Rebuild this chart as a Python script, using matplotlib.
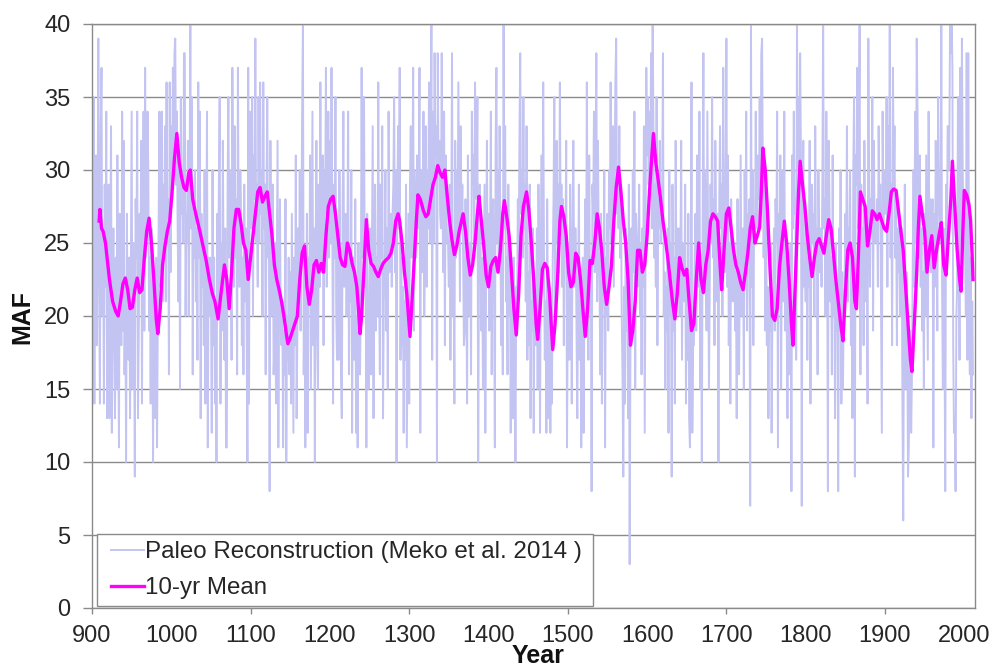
import numpy as np
import matplotlib
matplotlib.use("Agg")
import matplotlib.pyplot as plt
from matplotlib.legend_handler import HandlerLine2D

# Annual reconstructed flow (MAF), one list per century, ten years per row
flow_0900 = [
    30, 22, 35, 14, 28, 31, 18, 26, 39, 22,
    14, 33, 37, 20, 26, 14, 29, 22, 34, 13,
    19, 29, 13, 24, 33, 12, 22, 26, 18, 13,
    24, 15, 31, 20, 11, 27, 23, 18, 34, 19,
    32, 16, 22, 10, 27, 19, 17, 24, 13, 23,
    34, 15, 25, 20, 9, 28, 24, 34, 13, 19,
    27, 22, 32, 14, 26, 34, 19, 37, 24, 27,
    34, 30, 19, 24, 14, 26, 21, 10, 23, 15,
    13, 24, 11, 20, 26, 34, 22, 30, 34, 21,
    29, 24, 33, 21, 36, 25, 28, 16, 36, 23]
flow_1000 = [
    33, 28, 37, 30, 38, 39, 29, 34, 26, 21,
    31, 15, 35, 27, 30, 25, 38, 38, 20, 27,
    25, 32, 20, 28, 40, 26, 35, 16, 27, 24,
    30, 21, 26, 17, 36, 24, 34, 13, 27, 22,
    25, 18, 30, 14, 23, 34, 11, 24, 20, 24,
    22, 12, 30, 18, 24, 14, 21, 10, 27, 20,
    29, 35, 14, 25, 19, 32, 22, 17, 26, 11,
    11, 29, 35, 24, 30, 27, 17, 37, 28, 22,
    33, 24, 28, 16, 37, 25, 22, 30, 27, 18,
    24, 16, 29, 21, 26, 19, 10, 37, 14, 34]
flow_1100 = [
    30, 26, 35, 20, 31, 28, 39, 25, 29, 22,
    35, 25, 36, 27, 30, 20, 36, 26, 29, 16,
    28, 35, 24, 27, 8, 32, 20, 26, 29, 16,
    18, 25, 14, 23, 32, 11, 22, 28, 19, 18,
    21, 11, 19, 16, 28, 10, 20, 17, 24, 16,
    23, 14, 27, 19, 12, 24, 18, 31, 13, 19,
    26, 21, 30, 19, 25, 34, 40, 16, 23, 11,
    18, 27, 12, 24, 21, 31, 15, 25, 34, 18,
    26, 10, 24, 32, 19, 15, 29, 22, 36, 23,
    25, 31, 18, 30, 27, 37, 22, 29, 34, 24]
flow_1200 = [
    32, 25, 37, 27, 14, 29, 24, 35, 20, 17,
    26, 17, 30, 24, 16, 13, 27, 34, 22, 25,
    27, 20, 25, 34, 16, 24, 21, 30, 12, 24,
    22, 17, 28, 12, 20, 11, 25, 18, 16, 21,
    37, 24, 30, 35, 22, 26, 11, 27, 18, 15,
    21, 26, 16, 25, 33, 13, 24, 29, 19, 24,
    20, 36, 22, 16, 29, 24, 33, 13, 21, 23,
    30, 19, 26, 15, 34, 23, 25, 27, 22, 27,
    29, 35, 23, 30, 10, 28, 33, 26, 37, 17,
    24, 18, 22, 12, 21, 17, 29, 11, 19, 27]
flow_1300 = [
    14, 29, 33, 24, 28, 37, 19, 30, 27, 24,
    31, 26, 29, 37, 12, 30, 23, 28, 34, 20,
    27, 33, 22, 30, 26, 36, 25, 29, 40, 17,
    34, 25, 38, 31, 33, 10, 38, 30, 32, 27,
    26, 38, 28, 23, 34, 18, 31, 27, 25, 25,
    22, 29, 17, 25, 38, 20, 24, 14, 32, 24,
    30, 25, 36, 28, 21, 33, 26, 29, 24, 18,
    19, 28, 22, 14, 31, 24, 20, 25, 16, 34,
    29, 31, 24, 36, 30, 28, 35, 10, 23, 29,
    25, 19, 24, 15, 22, 29, 12, 23, 32, 22]
flow_1400 = [
    27, 19, 26, 34, 16, 25, 28, 22, 11, 32,
    37, 25, 30, 23, 33, 26, 18, 27, 16, 40,
    26, 33, 21, 24, 16, 29, 20, 25, 12, 24,
    20, 13, 24, 18, 10, 22, 19, 28, 24, 32,
    38, 27, 30, 24, 35, 26, 29, 21, 33, 17,
    23, 18, 29, 13, 21, 19, 26, 12, 22, 22,
    18, 26, 15, 29, 24, 12, 25, 31, 23, 36,
    24, 17, 21, 12, 28, 19, 13, 22, 12, 20,
    14, 24, 28, 35, 20, 27, 32, 25, 29, 23,
    36, 26, 29, 22, 28, 18, 27, 25, 32, 11]
flow_1500 = [
    21, 25, 17, 29, 23, 14, 26, 32, 22, 26,
    26, 19, 13, 22, 29, 17, 21, 11, 23, 24,
    12, 22, 28, 20, 36, 24, 17, 31, 21, 24,
    8, 29, 27, 34, 23, 28, 38, 21, 32, 25,
    22, 16, 27, 14, 23, 21, 30, 11, 24, 20,
    27, 19, 30, 26, 36, 25, 28, 33, 22, 29,
    36, 39, 27, 30, 26, 33, 24, 29, 20, 16,
    9, 22, 14, 26, 19, 22, 13, 29, 3, 18,
    26, 19, 30, 23, 34, 15, 27, 25, 22, 24,
    29, 20, 25, 16, 26, 22, 33, 12, 24, 37]
flow_1600 = [
    31, 35, 29, 34, 30, 38, 26, 40, 33, 24,
    29, 22, 35, 18, 28, 26, 32, 25, 27, 28,
    38, 20, 23, 15, 22, 19, 26, 12, 30, 20,
    25, 9, 29, 19, 24, 14, 32, 22, 26, 25,
    26, 20, 24, 32, 17, 25, 22, 21, 29, 14,
    23, 17, 27, 13, 11, 20, 36, 12, 18, 18,
    24, 27, 19, 31, 25, 22, 34, 15, 23, 10,
    26, 38, 22, 30, 24, 19, 34, 25, 15, 22,
    29, 25, 35, 24, 28, 18, 32, 26, 21, 27,
    10, 28, 33, 26, 29, 20, 37, 27, 23, 27]
flow_1700 = [
    39, 22, 31, 18, 25, 14, 28, 23, 21, 24,
    25, 19, 23, 13, 28, 21, 16, 24, 31, 20,
    22, 26, 15, 30, 24, 34, 19, 27, 25, 28,
    7, 40, 22, 30, 18, 27, 25, 34, 26, 26,
    31, 28, 35, 27, 38, 39, 29, 24, 30, 19,
    28, 18, 22, 13, 21, 19, 25, 12, 20, 22,
    26, 19, 28, 25, 34, 11, 27, 24, 31, 15,
    25, 30, 21, 34, 19, 24, 20, 13, 23, 16,
    19, 25, 8, 31, 26, 34, 27, 28, 17, 40,
    30, 35, 29, 38, 31, 7, 28, 32, 22, 23]
flow_1800 = [
    21, 26, 17, 24, 22, 32, 14, 25, 29, 25,
    27, 20, 33, 24, 26, 16, 30, 25, 23, 26,
    22, 29, 40, 26, 28, 20, 34, 27, 8, 32,
    28, 21, 24, 16, 31, 20, 23, 13, 25, 19,
    22, 8, 26, 19, 30, 14, 23, 15, 21, 22,
    27, 23, 33, 21, 26, 24, 30, 18, 25, 13,
    30, 35, 9, 31, 29, 37, 26, 32, 40, 16,
    29, 22, 26, 18, 32, 24, 21, 25, 14, 39,
    29, 22, 28, 26, 35, 19, 32, 25, 27, 25,
    28, 22, 33, 27, 29, 21, 12, 34, 26, 28]
flow_1900 = [
    30, 27, 35, 22, 33, 28, 40, 24, 29, 18,
    37, 29, 33, 24, 28, 18, 26, 23, 27, 20,
    20, 26, 14, 6, 22, 29, 15, 23, 21, 9,
    11, 17, 19, 12, 16, 24, 30, 22, 34, 25,
    39, 34, 27, 24, 31, 22, 26, 19, 23, 15,
    27, 20, 31, 24, 17, 34, 25, 28, 23, 26,
    28, 11, 27, 22, 32, 26, 19, 35, 28, 27,
    25, 40, 22, 15, 26, 19, 8, 29, 23, 33,
    33, 30, 40, 38, 41, 37, 18, 12, 13, 8,
    20, 22, 35, 28, 17, 37, 25, 39, 30, 26]
flow_2000 = [27, 24, 20, 38, 17, 38, 22, 16, 24, 13, 21, 16]

first_year = 900

# 10-year running mean (year, MAF)
mean_0900 = [
    (909, 26.5), (910, 27.3), (912, 26.0), (914, 25.8), (917, 25.0), (919, 24.0),
    (922, 22.5), (926, 21.0), (930, 20.3), (933, 20.0), (936, 21.0), (939, 22.2),
    (942, 22.6), (945, 21.8), (948, 20.5), (951, 20.6), (954, 21.8), (957, 22.6),
    (960, 21.6), (963, 21.8), (966, 24.0), (969, 25.8), (972, 26.7), (975, 25.0),
    (978, 22.5), (981, 19.8), (983, 18.8), (986, 20.5), (989, 23.5), (992, 24.8),
    (995, 25.8), (998, 26.5)]
mean_1000 = [
    (1001, 28.5), (1004, 30.8), (1007, 32.5), (1010, 30.5), (1013, 29.5), (1016, 28.8),
    (1019, 28.6), (1022, 29.8), (1024, 30.0), (1027, 28.0), (1030, 27.2), (1033, 26.5),
    (1036, 25.8), (1040, 24.8), (1044, 23.8), (1048, 22.5), (1052, 21.5), (1055, 21.0),
    (1059, 19.8), (1063, 21.7), (1067, 23.5), (1070, 22.5), (1073, 20.5), (1076, 23.0),
    (1079, 26.0), (1082, 27.3), (1085, 27.3), (1088, 26.3), (1091, 25.0), (1094, 24.5),
    (1097, 22.5)]
mean_1100 = [
    (1100, 24.0), (1103, 25.5), (1106, 27.0), (1109, 28.5), (1112, 28.8), (1115, 27.8),
    (1118, 28.2), (1121, 28.5), (1124, 27.0), (1127, 25.5), (1130, 23.5), (1133, 22.5),
    (1136, 21.8), (1139, 21.0), (1142, 20.0), (1145, 18.8), (1147, 18.1), (1150, 18.5),
    (1153, 19.0), (1156, 19.5), (1159, 20.0), (1162, 22.5), (1165, 24.3), (1168, 24.8),
    (1171, 22.0), (1174, 20.8), (1177, 21.8), (1180, 23.5), (1183, 23.8), (1186, 23.0),
    (1189, 23.6), (1192, 23.0), (1195, 25.5), (1198, 27.5)]
mean_1200 = [
    (1201, 28.0), (1204, 28.2), (1207, 27.0), (1210, 25.5), (1213, 24.0), (1216, 23.5),
    (1219, 23.4), (1222, 25.0), (1225, 24.5), (1228, 23.6), (1231, 23.0), (1234, 22.0),
    (1236, 20.5), (1238, 18.8), (1240, 20.0), (1242, 22.2), (1244, 24.5), (1246, 26.6),
    (1249, 24.5), (1252, 23.6), (1255, 23.4), (1258, 23.0), (1261, 22.7), (1264, 23.2),
    (1267, 23.6), (1270, 23.8), (1274, 24.0), (1277, 24.3), (1280, 25.0), (1283, 26.5),
    (1286, 27.0), (1288, 26.5), (1291, 25.0), (1294, 23.0), (1297, 21.5), (1299, 20.0)]
mean_1300 = [
    (1301, 18.6), (1303, 20.5), (1306, 23.5), (1309, 26.5), (1311, 28.3), (1314, 28.0),
    (1318, 27.2), (1321, 26.8), (1324, 27.0), (1327, 28.0), (1330, 29.0), (1333, 29.5),
    (1336, 30.3), (1339, 29.8), (1342, 29.5), (1345, 30.0), (1348, 28.2), (1351, 26.5),
    (1354, 25.2), (1357, 24.2), (1360, 24.8), (1363, 25.8), (1366, 26.5), (1368, 27.0),
    (1371, 25.8), (1374, 24.0), (1377, 22.8), (1380, 23.5), (1383, 25.0), (1386, 27.0),
    (1388, 28.2), (1391, 26.5), (1394, 24.8), (1397, 22.8)]
mean_1400 = [
    (1400, 22.0), (1403, 23.4), (1406, 23.8), (1409, 24.0), (1412, 23.0), (1415, 24.5),
    (1418, 27.0), (1420, 27.9), (1423, 26.8), (1426, 25.5), (1429, 23.0), (1432, 20.5),
    (1435, 18.7), (1438, 21.5), (1441, 25.5), (1444, 27.5), (1448, 28.5), (1451, 27.2),
    (1454, 25.0), (1457, 22.5), (1460, 19.5), (1462, 18.4), (1465, 20.5), (1468, 23.2),
    (1471, 23.6), (1474, 23.3), (1477, 21.5), (1479, 19.5), (1481, 17.7), (1484, 19.5),
    (1487, 22.5), (1490, 26.5), (1492, 27.5), (1495, 26.8), (1498, 25.5)]
mean_1500 = [
    (1501, 23.0), (1504, 22.0), (1507, 22.3), (1510, 24.3), (1513, 24.0), (1516, 22.5),
    (1519, 20.5), (1522, 18.6), (1525, 20.5), (1528, 23.8), (1531, 23.6), (1534, 25.0),
    (1537, 27.0), (1540, 26.0), (1543, 24.3), (1546, 22.0), (1549, 20.8), (1552, 22.0),
    (1555, 23.4), (1558, 26.5), (1561, 28.8), (1564, 30.2), (1567, 28.5), (1570, 26.5),
    (1573, 25.0), (1576, 22.5), (1579, 18.0), (1582, 19.0), (1585, 21.0), (1588, 24.5),
    (1591, 24.5), (1594, 23.0), (1597, 23.5)]
mean_1600 = [
    (1600, 25.5), (1603, 28.5), (1606, 31.0), (1608, 32.5), (1611, 30.5), (1614, 29.3),
    (1617, 28.0), (1620, 26.5), (1623, 25.3), (1626, 24.0), (1629, 22.5), (1632, 21.0),
    (1635, 19.8), (1638, 21.5), (1641, 24.0), (1644, 23.3), (1647, 22.8), (1650, 23.2),
    (1653, 21.0), (1656, 19.0), (1659, 19.5), (1662, 22.5), (1665, 25.0), (1668, 22.5),
    (1671, 21.6), (1674, 23.5), (1677, 24.5), (1680, 26.5), (1683, 27.0), (1686, 26.8),
    (1689, 26.5), (1692, 23.5), (1694, 21.8), (1697, 24.5)]
mean_1700 = [
    (1700, 27.0), (1703, 27.4), (1706, 26.0), (1709, 24.5), (1712, 23.5), (1715, 23.0),
    (1718, 22.3), (1721, 21.8), (1724, 23.0), (1727, 24.3), (1730, 26.0), (1733, 26.8),
    (1736, 25.0), (1739, 25.5), (1742, 26.1), (1744, 28.5), (1746, 31.5), (1749, 30.0),
    (1752, 27.0), (1755, 23.2), (1758, 20.0), (1761, 19.7), (1764, 20.5), (1767, 23.4),
    (1770, 25.0), (1773, 26.5), (1776, 25.0), (1779, 22.5), (1782, 19.5), (1784, 18.0),
    (1786, 21.0), (1789, 25.5), (1791, 28.5), (1793, 30.6), (1796, 29.0), (1799, 27.5)]
mean_1800 = [
    (1802, 25.5), (1805, 24.0), (1808, 22.7), (1811, 24.0), (1814, 25.0), (1817, 25.3),
    (1820, 24.8), (1823, 24.3), (1826, 25.5), (1829, 26.6), (1832, 26.0), (1835, 24.3),
    (1838, 22.5), (1841, 21.0), (1844, 19.5), (1847, 18.3), (1850, 21.5), (1853, 24.5),
    (1856, 25.0), (1859, 24.0), (1862, 21.0), (1864, 20.5), (1867, 25.0), (1869, 28.5),
    (1872, 28.0), (1875, 27.5), (1878, 24.8), (1881, 25.8), (1884, 27.2), (1887, 27.0),
    (1890, 26.6), (1893, 27.0), (1896, 26.5), (1899, 26.0)]
mean_1900 = [
    (1902, 25.8), (1905, 27.0), (1908, 28.5), (1911, 28.7), (1914, 28.6), (1917, 27.2),
    (1920, 25.8), (1923, 24.5), (1926, 22.0), (1929, 19.5), (1932, 17.0), (1934, 16.2),
    (1937, 19.5), (1940, 23.0), (1942, 26.0), (1944, 28.2), (1947, 27.0), (1950, 25.8),
    (1953, 23.0), (1956, 24.5), (1959, 25.5), (1962, 23.3), (1965, 24.5), (1968, 25.5),
    (1971, 26.4), (1974, 23.5), (1977, 22.8), (1980, 25.5), (1983, 28.0), (1985, 30.6),
    (1988, 27.5), (1991, 24.5), (1994, 22.5), (1996, 21.7), (1998, 25.5)]
mean_2000 = [
    (2000, 28.6), (2003, 28.3), (2006, 27.6), (2008, 26.5), (2010, 24.0), (2011, 22.5)]

y_ticks = [0, 5, 10, 15, 20, 25, 30, 35, 40]
x_labels = list(range(900, 2001, 100))
x_marks = list(range(900, 2000, 200))

label_annual = "Paleo Reconstruction (Meko et al. 2014 )"
label_mean = "10-yr Mean"

plt.rcParams["font.family"] = ["Liberation Sans", "DejaVu Sans"]

annual = np.concatenate([flow_0900, flow_1000, flow_1100, flow_1200, flow_1300,
                         flow_1400, flow_1500, flow_1600, flow_1700, flow_1800,
                         flow_1900, flow_2000]).astype(float)
years = np.arange(first_year, first_year + len(annual))

mean_pts = (mean_0900 + mean_1000 + mean_1100 + mean_1200 + mean_1300 + mean_1400 +
            mean_1500 + mean_1600 + mean_1700 + mean_1800 + mean_1900 + mean_2000)
mean_years = [p[0] for p in mean_pts]
mean_vals = [p[1] for p in mean_pts]

W, H = 995, 669
fig = plt.figure(figsize=(W / 100, H / 100), dpi=100)
ax = fig.add_axes([92 / W, 1 - 608 / H, (975 - 92) / W, (608 - 24) / H])

grid_col = "#8a8a8a"
text_col = "#262626"

ax.plot(years, annual, color="#c4c4f2", lw=1.4, zorder=2, label=label_annual)
ax.plot(mean_years, mean_vals, color="#ff00ff", lw=2.4, zorder=3, label=label_mean,
        solid_joinstyle="round")

ax.set_xlim(900, 2013.5)
ax.set_ylim(0, 40)
ax.set_yticks(y_ticks)
ax.yaxis.grid(True, color=grid_col, lw=1.0)
ax.set_axisbelow(True)

ax.set_xticks(x_labels)
ax.set_xticks(x_marks, minor=True)
ax.xaxis.remove_overlapping_locs = False
ax.tick_params(axis="x", which="major", length=0, pad=12, labelsize=17, labelcolor=text_col)
ax.tick_params(axis="x", which="minor", length=4.5, width=1, color=grid_col)
ax.tick_params(axis="y", length=6.5, width=1, color=grid_col, pad=9, labelsize=17,
               labelcolor=text_col)

for sp in ax.spines.values():
    sp.set_color(grid_col)
    sp.set_linewidth(1.0)

fig.text(22 / W, 1 - 317 / H, "MAF", rotation=90, fontsize=18, fontweight="bold",
         ha="center", va="center", color="#111111")
fig.text(538 / W, 1 - 668 / H, "Year", fontsize=18, fontweight="bold",
         ha="center", va="bottom", color="#111111")

fs_leg = 17.4
leg = ax.legend(loc="upper left",
                bbox_to_anchor=(97 / W, 1 - 603 / H, (593 - 97) / W, (603 - 534) / H),
                bbox_transform=fig.transFigure, mode="expand", borderaxespad=0,
                fontsize=fs_leg, frameon=True, fancybox=False, framealpha=1,
                edgecolor=grid_col, handlelength=1.64, handletextpad=0.05,
                borderpad=0.29, labelspacing=0.58,
                handler_map={ax.lines[0]: HandlerLine2D(xpad=0.28),
                             ax.lines[1]: HandlerLine2D(xpad=0.28)})
leg.get_frame().set_linewidth(1.0)
leg.set_zorder(5)
for t in leg.get_texts():
    t.set_color(text_col)

fig.savefig("out.png", dpi=100)
